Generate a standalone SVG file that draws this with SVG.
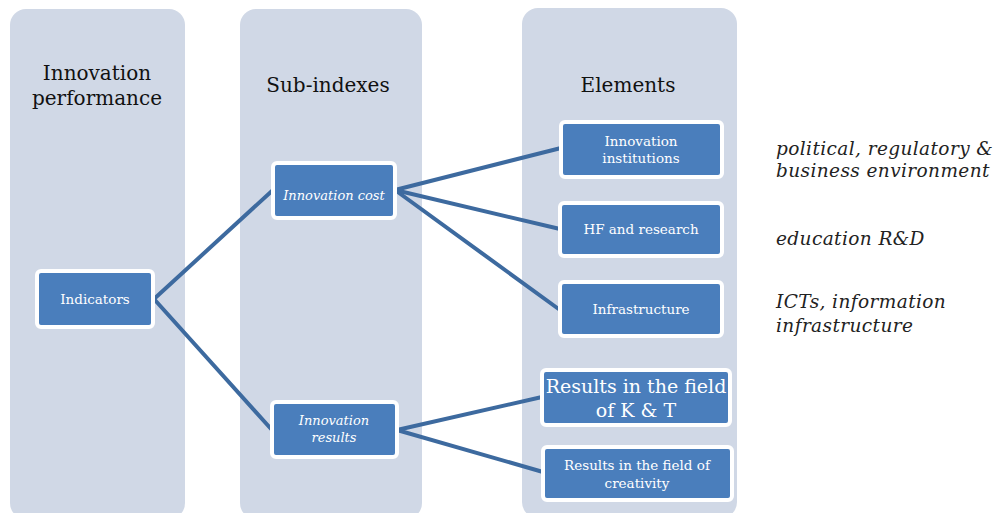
<svg xmlns="http://www.w3.org/2000/svg" width="1005" height="513" viewBox="0 0 1005 513">
<style>
.col{fill:#d0d8e6}
.box{fill:#4a7ebc;stroke:#ffffff;stroke-width:4}
.head{font-family:'DejaVu Serif','Liberation Serif',serif;font-size:20px;fill:#111;text-anchor:middle}
.bt{font-family:'DejaVu Serif','Liberation Serif',serif;font-size:13.5px;fill:#fff;text-anchor:middle}
.bi{font-family:'DejaVu Serif','Liberation Serif',serif;font-size:13px;font-style:italic;fill:#fff;text-anchor:middle}
.big{font-family:'DejaVu Serif','Liberation Serif',serif;font-size:19px;fill:#fff;text-anchor:middle}
.side{font-family:'DejaVu Serif','Liberation Serif',serif;font-size:18.5px;font-style:italic;fill:#222;letter-spacing:0.4px}
.con{stroke:#3d6a9f;stroke-width:4;fill:none;stroke-linecap:round}
</style>
<rect width="1005" height="513" fill="#ffffff"/>
<g id="col-performance"><rect class="col" x="10" y="9" width="175" height="510" rx="16"/>
<text class="head" x="97" y="80">Innovation</text><text class="head" x="97" y="105">performance</text></g>
<g id="col-subindexes"><rect class="col" x="240" y="9" width="182" height="510" rx="16"/>
<text class="head" x="328" y="92">Sub-indexes</text></g>
<g id="col-elements"><rect class="col" x="522" y="8" width="215" height="510" rx="16"/>
<text class="head" x="628" y="92">Elements</text></g>
<g id="connectors">
<line class="con" x1="154" y1="299" x2="273" y2="190"/>
<line class="con" x1="154" y1="299" x2="272" y2="430"/>
<line class="con" x1="395" y1="190" x2="561" y2="148"/>
<line class="con" x1="395" y1="190" x2="560" y2="229"/>
<line class="con" x1="395" y1="190" x2="560" y2="310"/>
<line class="con" x1="397" y1="430" x2="542" y2="397"/>
<line class="con" x1="397" y1="430" x2="543" y2="472"/>
</g>
<g id="n-indicators"><rect class="box" x="37" y="271" width="116" height="56" rx="4"/>
<text class="bt" x="95" y="304">Indicators</text></g>
<g id="n-cost"><rect class="box" x="273" y="163" width="122" height="55" rx="4"/>
<text class="bi" x="334" y="200">Innovation cost</text></g>
<g id="n-results"><rect class="box" x="272" y="402" width="125" height="55" rx="4"/>
<text class="bi" x="334" y="425">Innovation</text><text class="bi" x="334" y="442">results</text></g>
<g id="n-institutions"><rect class="box" x="561" y="122" width="161" height="55" rx="4"/>
<text class="bt" x="641" y="146">Innovation</text><text class="bt" x="641" y="163">institutions</text></g>
<g id="n-hf"><rect class="box" x="560" y="203" width="162" height="53" rx="4"/>
<text class="bt" x="641" y="234">HF and research</text></g>
<g id="n-infra"><rect class="box" x="560" y="282" width="162" height="54" rx="4"/>
<text class="bt" x="641" y="314">Infrastructure</text></g>
<g id="n-kt"><rect class="box" x="542" y="370" width="188" height="55" rx="4"/>
<text class="big" x="636" y="393">Results in the field</text><text class="big" x="636" y="417">of K &amp; T</text></g>
<g id="n-creativity"><rect class="box" x="543" y="447" width="189" height="53" rx="4"/>
<text class="bt" x="637" y="470">Results in the field of</text><text class="bt" x="637" y="488">creativity</text></g>
<g id="side-notes">
<text class="side" x="776" y="155">political, regulatory &amp;</text>
<text class="side" x="776" y="177">business environment</text>
<text class="side" x="776" y="245">education R&amp;D</text>
<text class="side" x="776" y="308">ICTs, information</text>
<text class="side" x="776" y="332">infrastructure</text>
</g>
</svg>
